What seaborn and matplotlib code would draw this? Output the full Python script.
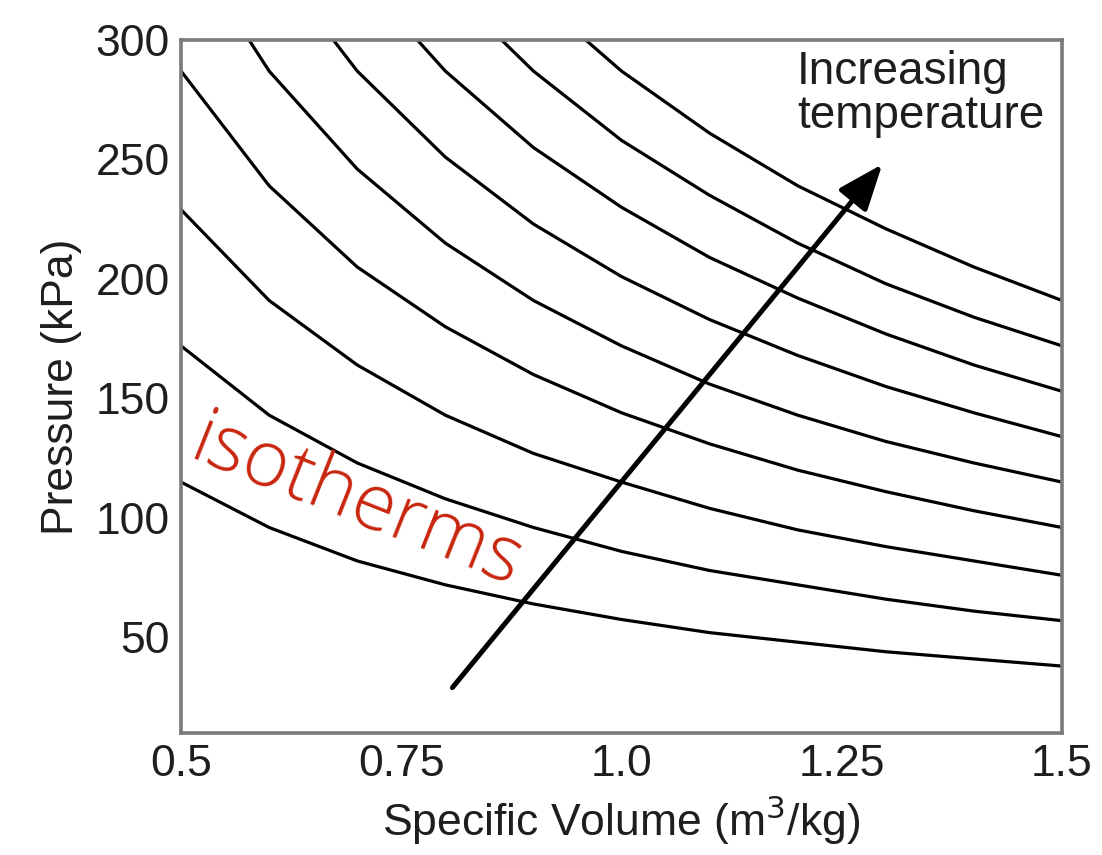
import numpy as np
import pandas as pd
import matplotlib
matplotlib.use("Agg")
import matplotlib.pyplot as plt
import seaborn as sns
from matplotlib.patches import FancyArrowPatch

# Specific volume nodes (m^3/kg)
volume = [0.5, 0.6, 0.7, 0.8, 0.9, 1.0, 1.1, 1.2, 1.3, 1.4, 1.5]
iso1 = [115, 96, 82, 72, 64, 57.5, 52, 48, 44, 41, 38]
iso2 = [172, 143, 123, 108, 96, 86, 78, 72, 66, 61, 57]
iso3 = [229, 191, 164, 143, 127, 115, 104, 95, 88, 82, 76]
iso4 = [287, 239, 205, 180, 160, 144, 131, 120, 111, 103, 96]
iso5 = [344, 287, 246, 215, 191, 172, 156, 143, 132, 123, 115]
iso6 = [402, 335, 287, 251, 223, 201, 183, 168, 155, 144, 134]
iso7 = [460, 383, 328, 287, 255, 230, 209, 192, 177, 164, 153]
iso8 = [516, 430, 369, 323, 287, 258, 235, 215, 198, 184, 172]
iso9 = [574, 478, 410, 359, 319, 287, 261, 239, 221, 205, 191]

x_ticks = [0.5, 0.75, 1.0, 1.25, 1.5]
x_tick_labels = ["0.5", "0.75", "1.0", "1.25", "1.5"]
y_ticks = [50, 100, 150, 200, 250, 300]

arrow_start = (0.808, 29)
arrow_end = (1.296, 248)

isotherms = [iso1, iso2, iso3, iso4, iso5, iso6, iso7, iso8, iso9]
rows = []
for i, iso in enumerate(isotherms):
    for v, p in zip(volume, iso):
        rows.append({"curve": i, "v": v, "P": p})
df = pd.DataFrame(rows)

sns.set_style("white")
plt.rcParams["font.family"] = ["Liberation Sans", "DejaVu Sans"]

fig = plt.figure(figsize=(11.02, 8.55), dpi=100)
ax = fig.add_axes([0.1643, 0.1427, 0.7994, 0.8105])

sns.lineplot(data=df, x="v", y="P", units="curve", estimator=None,
             color="black", linewidth=2.3, ax=ax, legend=False, sort=False)

ax.set_xlim(0.5, 1.5)
ax.set_ylim(10, 300)
ax.set_xticks(x_ticks)
ax.set_xticklabels(x_tick_labels)
ax.set_yticks(y_ticks)

for s in ax.spines.values():
    s.set_color("#7a7a7a")
    s.set_linewidth(2.6)
ax.tick_params(direction="in", length=8, width=1.5, color="#7a7a7a",
               labelsize=32, labelcolor="#1e1e1e", pad=8)

ax.set_xlabel("Specific Volume (m$^3$/kg)", fontsize=32, color="#1e1e1e", labelpad=6)
ax.set_ylabel("Pressure (kPa)", fontsize=32, color="#1e1e1e", labelpad=10)

arrow = FancyArrowPatch(arrow_start, arrow_end, arrowstyle="-|>,head_length=28,head_width=11",
                        mutation_scale=1, color="black", linewidth=3.6,
                        shrinkA=0, shrinkB=0)
ax.add_patch(arrow)

ax.text(0.699, 0.985, "Increasing\ntemperature", transform=ax.transAxes,
        fontsize=33, color="#1e1e1e", ha="left", va="top", linespacing=1.0)

ax.text(0.507, 125, "isotherms", fontsize=56, color="#c8250d", rotation=-21.7,
        rotation_mode="anchor", ha="left", va="baseline",
        family=["Open Sans", "DejaVu Sans"], fontweight="light")

fig.savefig("out.png", dpi=100)
